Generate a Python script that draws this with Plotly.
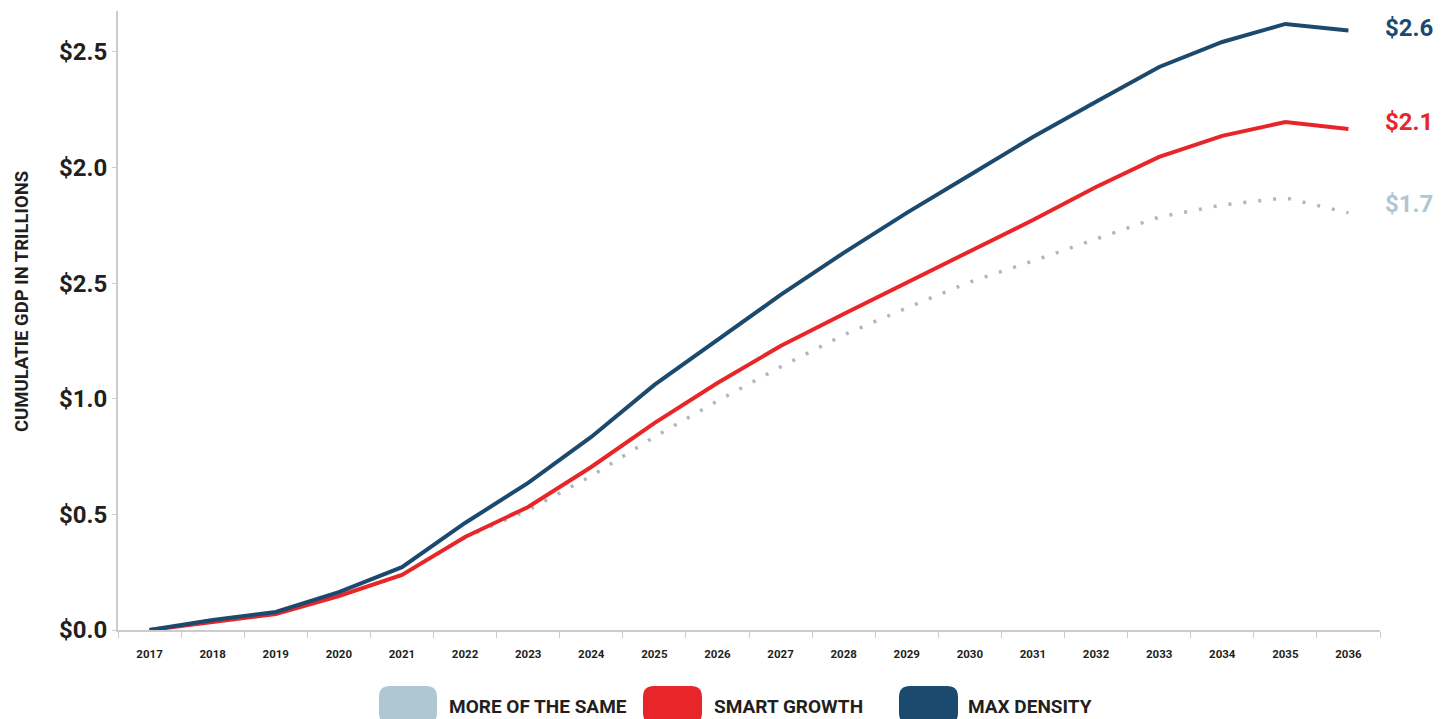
import plotly.graph_objects as go

years = list(range(2017, 2037))
year_labels = [str(y) for y in years]

more_of_the_same = [0.0, 0.035, 0.069, 0.147, 0.238, 0.40, 0.519, 0.666, 0.835, 0.990,
                    1.138, 1.276, 1.393, 1.505, 1.596, 1.691, 1.786, 1.838, 1.869, 1.804]
smart_growth = [0.0, 0.035, 0.069, 0.147, 0.238, 0.402, 0.532, 0.705, 0.895, 1.068,
                1.228, 1.367, 1.501, 1.639, 1.773, 1.916, 2.046, 2.137, 2.197, 2.167]
max_density = [0.0, 0.043, 0.078, 0.164, 0.272, 0.463, 0.636, 0.835, 1.060, 1.254,
               1.449, 1.631, 1.804, 1.968, 2.132, 2.284, 2.435, 2.543, 2.621, 2.593]

series_names = ["MORE OF THE SAME", "SMART GROWTH", "MAX DENSITY"]
end_labels = ["$1.7", "$2.1", "$2.6"]
y_tickvals = [0, 0.5, 1.0, 1.5, 2.0, 2.5]
y_ticktext = ["$0.0", "$0.5", "$1.0", "$2.5", "$2.0", "$2.5"]
y_title = "CUMULATIE GDP IN TRILLIONS"

C_LIGHT = "#afc6d3"
C_RED = "#e8262a"
C_BLUE = "#1b4a6e"
C_TEXT = "#231f20"
FONT = "Roboto, Lato, sans-serif"

fig = go.Figure()
fig.add_trace(go.Scatter(x=years, y=more_of_the_same, mode="lines", name=series_names[0],
                         line=dict(color="#a9b8c2", width=3.5, dash="3px,12px")))
fig.add_trace(go.Scatter(x=years, y=smart_growth, mode="lines", name=series_names[1],
                         line=dict(color=C_RED, width=4)))
fig.add_trace(go.Scatter(x=years, y=max_density, mode="lines", name=series_names[2],
                         line=dict(color=C_BLUE, width=4)))

OFF = 8  # page body margin
W, H = 1450 - OFF, 719 - OFF
L, R, T, B = 118 - OFF, 70, 11 - OFF, 89
pw, ph = W - L - R, H - T - B


def px_to_paper(xp, yp):
    xp -= OFF
    yp -= OFF
    return (xp - L) / pw, (H - B - yp) / ph


def rounded_rect(x0, y0, x1, y1, r):
    def P(x, y):
        a, b = px_to_paper(x, y)
        return f"{a:.5f},{b:.5f}"
    return (f"M {P(x0 + r, y0)} L {P(x1 - r, y0)} Q {P(x1, y0)} {P(x1, y0 + r)} "
            f"L {P(x1, y1 - r)} Q {P(x1, y1)} {P(x1 - r, y1)} L {P(x0 + r, y1)} "
            f"Q {P(x0, y1)} {P(x0, y1 - r)} L {P(x0, y0 + r)} Q {P(x0, y0)} {P(x0 + r, y0)} Z")


shapes = []
annotations = []
legend_items = [(379, 437, 447, C_LIGHT), (643, 702, 712, C_RED), (899, 958, 966, C_BLUE)]
for name, (sx0, sx1, tx, col) in zip(series_names, legend_items):
    shapes.append(dict(type="path", path=rounded_rect(sx0, 686, sx1, 724, 11),
                       xref="paper", yref="paper", fillcolor=col, line=dict(width=0),
                       layer="above"))
    ax, ay = px_to_paper(tx, 706)
    annotations.append(dict(x=ax, y=ay, xref="paper", yref="paper", text=name,
                            showarrow=False, xanchor="left", yanchor="middle",
                            font=dict(family=FONT, size=19, color=C_TEXT, weight="bold")))

for lab, vals, col, ys in zip(end_labels, [more_of_the_same, smart_growth, max_density],
                              [C_LIGHT, C_RED, C_BLUE], [9, 7, 2]):
    annotations.append(dict(x=1, y=vals[-1], xref="paper", yref="y", text=lab,
                            showarrow=False, xanchor="left", yanchor="middle",
                            xshift=3, yshift=ys,
                            font=dict(family=FONT, size=24, color=col, weight="bold")))

tx, ty = px_to_paper(22, 302)
annotations.append(dict(x=tx, y=ty, xref="paper", yref="paper", text=y_title,
                        showarrow=False, textangle=-90, xanchor="center", yanchor="middle",
                        font=dict(family=FONT, size=18.5, color=C_TEXT, weight="bold")))

fig.update_layout(
    width=W, height=H,
    margin=dict(l=L, r=R, t=T, b=B),
    paper_bgcolor="white", plot_bgcolor="white",
    showlegend=False,
    shapes=shapes, annotations=annotations,
    font=dict(family=FONT, color=C_TEXT),
    xaxis=dict(range=[2016.5, 2036.5], tickmode="array", tickvals=years, ticktext=year_labels,
               ticks="", showgrid=False, zeroline=False, showline=True,
               linecolor="#cccccc", linewidth=2, ticklabelstandoff=12,
               tickfont=dict(family=FONT, size=11.5, color=C_TEXT, weight="bold"),
               minor=dict(tickvals=[y - 0.5 for y in years] + [2036.5], ticks="outside",
                          ticklen=6, tickcolor="#cccccc", tickwidth=1, showgrid=False)),
    yaxis=dict(range=[0, 2.677], tickmode="array", tickvals=y_tickvals, ticktext=y_ticktext,
               ticks="outside", ticklen=4, tickcolor="#cccccc", tickwidth=1,
               showgrid=False, zeroline=False, showline=True,
               linecolor="#cccccc", linewidth=2,
               tickfont=dict(family=FONT, size=24, color=C_TEXT, weight="bold")),
)

fig.write_html("out.html")
